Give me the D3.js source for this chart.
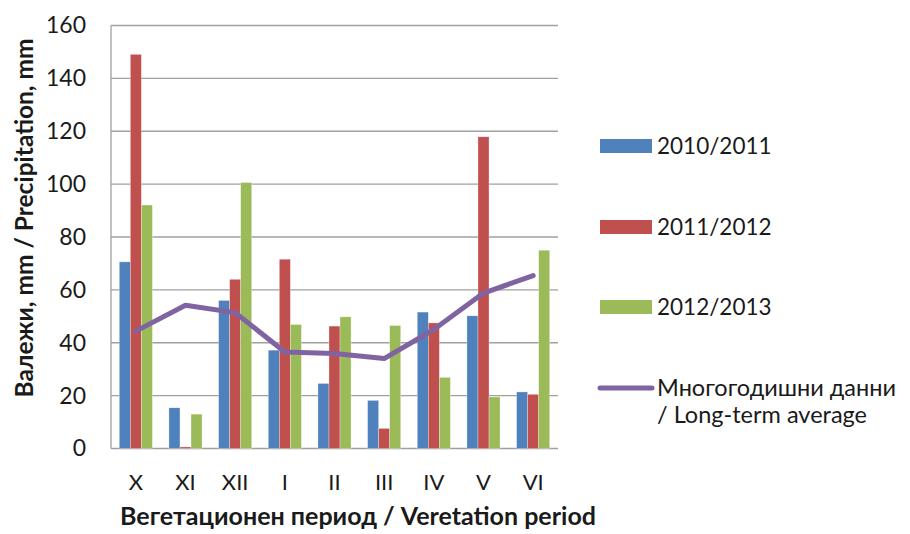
<!DOCTYPE html>
<html><head><meta charset="utf-8">
<script src="https://cdn.jsdelivr.net/npm/d3@7"></script>
<style>
body{margin:0;background:#fff;}
text{font-family:Lato,'Open Sans',sans-serif;fill:#1a1a1a;}
</style></head>
<body><svg id="c" width="910" height="534"></svg>
<script>
const categories = ["X","XI","XII","I","II","III","IV","V","VI"];
const seriesNames = ["2010/2011","2011/2012","2012/2013"];
const s2010 = [70.6,15.4,56.0,37.2,24.6,18.2,51.6,50.2,21.4];
const s2011 = [149.1,0.6,64.0,71.6,46.3,7.6,47.5,117.9,20.5];
const s2012 = [92.1,13.0,100.6,46.9,49.8,46.5,26.9,19.5,75.0];
const longTerm = [44.4,54.2,51.4,36.5,35.9,34.0,45.0,58.8,65.4];
const lineName = ["Многогодишни данни","/ Long-term average"];
const yTicks = [0,20,40,60,80,100,120,140,160];
const colors = ["#4F81BD","#C0504D","#9BBB59"];
const lineColor = "#8064A2";

const svg = d3.select("#c");
const L=111, R=558, T=25.5, B=448.5;
const x = d3.scaleBand().domain(categories).range([L,R]).padding(0);
const x1 = d3.scaleBand().domain(seriesNames).range([0,x.bandwidth()]).paddingOuter(0.75).paddingInner(0);
const y = d3.scaleLinear().domain([0,160]).range([B,T]);

// gridlines
svg.append("g").selectAll("line").data(yTicks).join("line")
  .attr("x1",L).attr("x2",R).attr("y1",d=>y(d)).attr("y2",d=>y(d))
  .attr("stroke","#a0a0a0").attr("stroke-width",1.3);
svg.append("line").attr("x1",L).attr("x2",L).attr("y1",T).attr("y2",B).attr("stroke","#a0a0a0").attr("stroke-width",1.3);

// y axis labels
const ya = svg.append("g").attr("transform",`translate(${L},0)`).call(d3.axisLeft(y).tickValues(yTicks).tickSize(0).tickPadding(25));
ya.select(".domain").remove();
ya.selectAll("text").style("font-size","23px").style("font-family","Lato,'Open Sans',sans-serif").attr("fill","#1a1a1a");

// x axis labels
const xa = svg.append("g").attr("transform",`translate(0,${B})`).call(d3.axisBottom(x).tickSize(0).tickPadding(26));
xa.select(".domain").remove();
xa.selectAll("text").style("font-size","22px").style("font-family","Lato,'Open Sans',sans-serif").attr("fill","#1a1a1a");

// bars
const allSeries = [s2010,s2011,s2012];
const rows = [];
categories.forEach((c,i)=>seriesNames.forEach((s,j)=>rows.push({c,s,j,v:allSeries[j][i]})));
svg.append("g").selectAll("rect").data(rows).join("rect")
  .attr("x",d=>x(d.c)+x1(d.s)).attr("width",x1.bandwidth())
  .attr("y",d=>y(d.v)).attr("height",d=>y(0)-y(d.v))
  .attr("fill",d=>colors[d.j]).attr("stroke","#fff").attr("stroke-opacity",0.5).attr("stroke-width",0.6);

// line
const line = d3.line().x((d,i)=>x(categories[i])+x.bandwidth()/2).y(d=>y(d));
svg.append("path").datum(longTerm).attr("d",line).attr("fill","none")
  .attr("stroke",lineColor).attr("stroke-width",5).attr("stroke-linejoin","round").attr("stroke-linecap","round");

// legend
const lg = svg.append("g");
const legY = [146,227,307];
seriesNames.forEach((s,i)=>{
  lg.append("rect").attr("x",600).attr("y",legY[i]-7).attr("width",52).attr("height",14).attr("fill",colors[i]);
  lg.append("text").attr("x",657).attr("y",legY[i]).attr("dy","0.35em").style("font-size","22.5px").text(s);
});
lg.append("line").attr("x1",600).attr("x2",652).attr("y1",388).attr("y2",388).attr("stroke",lineColor).attr("stroke-width",5).attr("stroke-linecap","round");
lg.append("text").attr("x",657).attr("y",388).attr("dy","0.35em").style("font-size","23.5px").text(lineName[0]);
lg.append("text").attr("x",657).attr("y",415).attr("dy","0.35em").style("font-size","23.5px").text(lineName[1]);

// axis titles
svg.append("text").attr("transform","translate(33,218) rotate(-90)").attr("text-anchor","middle")
  .style("font-size","24.5px").style("font-weight","bold").text("Валежи, mm / Precipitation, mm");
svg.append("text").attr("x",358).attr("y",525).attr("text-anchor","middle")
  .style("font-size","25px").style("font-weight","bold").text("Вегетационен период / Veretation period");
</script></body></html>
